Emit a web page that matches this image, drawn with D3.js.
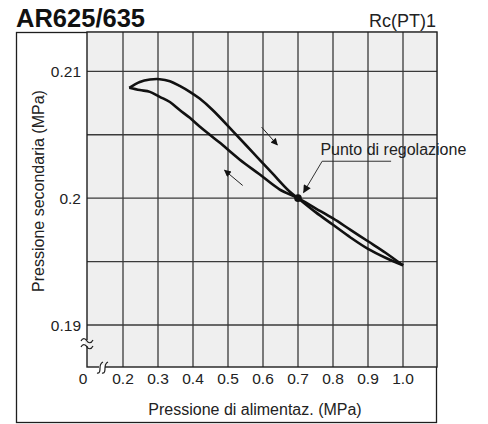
<!DOCTYPE html>
<html>
<head>
<meta charset="utf-8">
<script src="https://cdn.jsdelivr.net/npm/d3@7/dist/d3.min.js"></script>
<style>
  html, body { margin: 0; padding: 0; background: #fff; }
  svg { display: block; font-family: "Liberation Sans", Arial, sans-serif; }
</style>
</head>
<body>
<svg id="chart" width="488" height="424"></svg>
<script>
// ---- data ----
const xTicks = [0.2, 0.3, 0.4, 0.5, 0.6, 0.7, 0.8, 0.9, 1.0];
const xTickLabels = ["0.2", "0.3", "0.4", "0.5", "0.6", "0.7", "0.8", "0.9", "1.0"];
const yGrid = [0.19, 0.195, 0.2, 0.205, 0.21];
const yTicks = [0.19, 0.2, 0.21];
const yTickLabels = ["0.19", "0.2", "0.21"];

// increasing supply pressure (arrow pointing down-right)
const incX = [0.218, 0.248, 0.277, 0.305, 0.334, 0.362, 0.391, 0.419, 0.456, 0.513, 0.570, 0.627, 0.675, 0.70, 0.75, 0.80, 0.85, 0.90, 0.95, 1.0];
const incY = [0.2087, 0.20916, 0.20935, 0.20938, 0.20922, 0.20885, 0.20838, 0.20785, 0.20695, 0.20531, 0.20363, 0.20195, 0.20055, 0.2000, 0.1989, 0.1979, 0.1969, 0.1960, 0.1953, 0.1947];
// decreasing supply pressure (arrow pointing up-left)
const decX = [0.218, 0.248, 0.277, 0.305, 0.334, 0.362, 0.391, 0.419, 0.448, 0.476, 0.533, 0.590, 0.647, 0.70, 0.75, 0.80, 0.85, 0.90, 0.95, 1.0];
const decY = [0.2087, 0.20852, 0.20838, 0.20799, 0.20758, 0.20695, 0.20633, 0.20565, 0.20500, 0.20438, 0.20305, 0.20188, 0.20070, 0.2000, 0.1992, 0.1984, 0.1975, 0.1966, 0.1957, 0.1947];

const setPoint = [0.7, 0.2];
const setPointLabel = "Punto di regolazione";
const titleText = "AR625/635";
const subtitleText = "Rc(PT)1";
const xTitle = "Pressione di alimentaz. (MPa)";
const yTitle = "Pressione secondaria (MPa)";
// direction arrows: [x1,y1,x2,y2] tail -> head
const dirArrows = [[0.596, 0.2056, 0.641, 0.2042], [0.542, 0.2010, 0.490, 0.2022]];
// leader: text anchor, underline end, arrow tip
const leader = { textX: 0.764, textY: 0.2034, lineX0: 0.769, lineX1: 0.966, lineY: 0.20291, tipX: 0.716, tipY: 0.20045 };

// ---- layout ----
const svg = d3.select("#chart");
const L = 87, R = 437, T = 32, B = 367;
const x = d3.scaleLinear().domain([0, 0.2, 1.1]).range([L, 123, 438]);
const y = d3.scaleLinear().domain([0, 0.19, 0.2131]).range([B, 325, T]);

const ink = "#1e1e1e";

// frame
svg.append("rect").attr("x", 16.5).attr("y", 32.5).attr("width", 420).attr("height", 390)
  .attr("fill", "#fff").attr("stroke", ink).attr("stroke-width", 1.3);
// plot background
svg.append("rect").attr("x", L).attr("y", T).attr("width", R - L).attr("height", B - T)
  .attr("fill", "#efefef");

// grid
const grid = svg.append("g").attr("stroke", "#3a3a3a").attr("stroke-width", 1.3);
grid.selectAll(".vx").data(xTicks).join("line")
  .attr("x1", d => x(d)).attr("x2", d => x(d)).attr("y1", T).attr("y2", B);
grid.selectAll(".hy").data(yGrid).join("line")
  .attr("x1", L).attr("x2", R).attr("y1", d => y(d)).attr("y2", d => y(d));

// plot border / axes
svg.append("rect").attr("x", L).attr("y", T).attr("width", R - L).attr("height", B - T)
  .attr("fill", "none").attr("stroke", ink).attr("stroke-width", 1.4);

// axis break symbols
const brk = svg.append("g").attr("fill", "none").attr("stroke", ink).attr("stroke-width", 1.2);
brk.append("rect").attr("x", L - 2).attr("y", 340).attr("width", 4).attr("height", 6).attr("fill", "#efefef").attr("stroke", "none");
brk.append("path").attr("d", `M${L-6},341 c2,-4 5,-2 6,0 s4,3 6,-1`);
brk.append("path").attr("d", `M${L-6},347 c2,-4 5,-2 6,0 s4,3 6,-1`);
brk.append("rect").attr("x", 99).attr("y", B - 2).attr("width", 6).attr("height", 4).attr("fill", "#fff").attr("stroke", "none");
brk.append("path").attr("d", `M97,373 c3,1 3,-3 3,-5 s1,-5 3,-6`);
brk.append("path").attr("d", `M102,373 c3,1 3,-3 3,-5 s1,-5 3,-6`);

// tick labels
const tickFont = 15.5;
svg.append("g").selectAll("text").data(xTicks).join("text")
  .attr("x", d => x(d)).attr("y", 384)
  .attr("text-anchor", "middle").attr("font-size", tickFont).attr("fill", "#222")
  .text((d, i) => xTickLabels[i]);
svg.append("text").attr("x", 83).attr("y", 384).attr("text-anchor", "middle")
  .attr("font-size", tickFont).attr("fill", "#222").text("0");
svg.append("g").selectAll("text").data(yTicks).join("text")
  .attr("x", 81).attr("y", d => y(d) + 5.5)
  .attr("text-anchor", "end").attr("font-size", tickFont).attr("fill", "#222")
  .text((d, i) => yTickLabels[i]);

// axis titles
svg.append("text").attr("x", 255).attr("y", 415).attr("text-anchor", "middle")
  .attr("font-size", 16).attr("fill", "#222").text(xTitle);
svg.append("text").attr("transform", "translate(44,191) rotate(-90)").attr("text-anchor", "middle")
  .attr("font-size", 16).attr("fill", "#222").text(yTitle);

// titles
svg.append("text").attr("x", 16).attr("y", 27).attr("font-size", 25.5).attr("font-weight", "bold")
  .attr("fill", "#111").text(titleText);
svg.append("text").attr("x", 436).attr("y", 27).attr("text-anchor", "end").attr("font-size", 18)
  .attr("fill", "#222").text(subtitleText);

// curves
const line = d3.line().x(d => x(d[0])).y(d => y(d[1])).curve(d3.curveCatmullRom.alpha(0.5));
const incData = incX.map((v, i) => [v, incY[i]]);
const decData = decX.map((v, i) => [v, decY[i]]);
svg.append("path").datum(incData).attr("d", line).attr("fill", "none").attr("stroke", "#111").attr("stroke-width", 2.6);
svg.append("path").datum(decData).attr("d", line).attr("fill", "none").attr("stroke", "#111").attr("stroke-width", 2.6);

svg.append("circle").attr("cx", x(setPoint[0])).attr("cy", y(setPoint[1])).attr("r", 3.8).attr("fill", "#111");

// arrow markers
const defs = svg.append("defs");
defs.append("marker").attr("id", "ah").attr("viewBox", "0 0 10 10").attr("refX", 9).attr("refY", 5)
  .attr("markerWidth", 9).attr("markerHeight", 7).attr("markerUnits", "userSpaceOnUse").attr("orient", "auto")
  .append("path").attr("d", "M0,0 L10,5 L0,10 Z").attr("fill", "#111");
defs.append("marker").attr("id", "ah2").attr("viewBox", "0 0 10 10").attr("refX", 9).attr("refY", 5)
  .attr("markerWidth", 11).attr("markerHeight", 8).attr("markerUnits", "userSpaceOnUse").attr("orient", "auto")
  .append("path").attr("d", "M0,0 L10,5 L0,10 Z").attr("fill", "#111");

svg.append("g").selectAll("line").data(dirArrows).join("line")
  .attr("x1", d => x(d[0])).attr("y1", d => y(d[1])).attr("x2", d => x(d[2])).attr("y2", d => y(d[3]))
  .attr("stroke", "#222").attr("stroke-width", 1).attr("marker-end", "url(#ah)");

// leader
svg.append("text").attr("x", x(leader.textX)).attr("y", y(leader.textY)).attr("font-size", 16)
  .attr("fill", "#222").text(setPointLabel);
svg.append("line").attr("x1", x(leader.lineX0)).attr("x2", x(leader.lineX1))
  .attr("y1", y(leader.lineY)).attr("y2", y(leader.lineY)).attr("stroke", "#333").attr("stroke-width", 1);
svg.append("line").attr("x1", x(leader.lineX0)).attr("y1", y(leader.lineY))
  .attr("x2", x(leader.tipX)).attr("y2", y(leader.tipY))
  .attr("stroke", "#333").attr("stroke-width", 1).attr("marker-end", "url(#ah2)");
</script>
</body>
</html>
